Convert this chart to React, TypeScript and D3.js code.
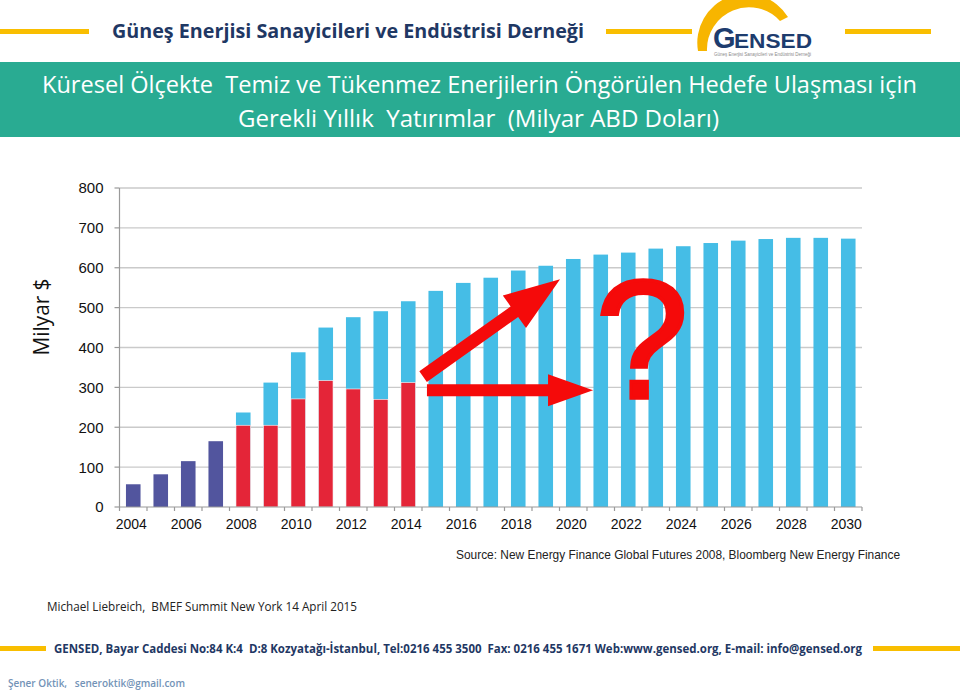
import React from "react";
import * as d3 from "d3";

// ---- data ----
const years: number[] = [2004, 2005, 2006, 2007, 2008, 2009, 2010, 2011, 2012, 2013, 2014, 2015, 2016, 2017, 2018, 2019, 2020, 2021, 2022, 2023, 2024, 2025, 2026, 2027, 2028, 2029, 2030];
const historicYears: number[] = [2004, 2005, 2006, 2007];
const historicValues: number[] = [57, 82, 115, 165];
const actualYears: number[] = [2008, 2009, 2010, 2011, 2012, 2013, 2014];
const actualValues: number[] = [205, 205, 271, 317, 296, 270, 312];
const requiredYears: number[] = [2008, 2009, 2010, 2011, 2012, 2013, 2014, 2015, 2016, 2017, 2018, 2019, 2020, 2021, 2022, 2023, 2024, 2025, 2026, 2027, 2028, 2029, 2030];
const requiredValues: number[] = [237, 312, 388, 450, 476, 491, 516, 542, 562, 575, 593, 605, 622, 633, 638, 648, 654, 662, 668, 672, 675, 675, 673];
const yTicks: number[] = [0, 100, 200, 300, 400, 500, 600, 700, 800];
const xTickLabels: number[] = [2004, 2006, 2008, 2010, 2012, 2014, 2016, 2018, 2020, 2022, 2024, 2026, 2028, 2030];

const headerTitle = "Güneş Enerjisi Sanayicileri ve Endüstrisi Derneği";
const titleLine1 = "Küresel Ölçekte  Temiz ve Tükenmez Enerjilerin Öngörülen Hedefe Ulaşması için";
const titleLine2 = "Gerekli Yıllık  Yatırımlar  (Milyar ABD Doları)";
const yAxisTitle = "Milyar $";
const sourceText = "Source: New Energy Finance Global Futures 2008, Bloomberg New Energy Finance";
const citeText = "Michael Liebreich,  BMEF Summit New York 14 April 2015";
const footerText = "GENSED, Bayar Caddesi No:84 K:4  D:8 Kozyatağı-İstanbul, Tel:0216 455 3500  Fax: 0216 455 1671 Web:www.gensed.org, E-mail: info@gensed.org";
const authorText = "Şener Oktik,   seneroktik@gmail.com";

// annotation positions in data space (bar index, value)
const diagArrow = { from: [11.04, 327], to: [16.02, 571] };
const horizArrow = { from: [11.18, 293], to: [17.22, 293] };
const questionPos = [19.0, 274];

const W = 960, H = 692;
const NAVY = "#52559E";
const RED = "#E42538";
const BLUE = "#45BDE6";
const ARROW = "#F50A0A";
const YELLOW = "#F9BE00";
const TEAL = "#29AB92";
const DARKNAVY = "#1F3864";

function arrowPoly(x0: number, y0: number, x1: number, y1: number, shaft: number, headW: number, headL: number) {
  const dx = x1 - x0, dy = y1 - y0;
  const len = Math.hypot(dx, dy);
  const ux = dx / len, uy = dy / len;
  const px = -uy, py = ux;
  const bx = x1 - ux * headL, by = y1 - uy * headL;
  const pts: [number, number][] = [
    [x0 + px * shaft / 2, y0 + py * shaft / 2],
    [bx + px * shaft / 2, by + py * shaft / 2],
    [bx + px * headW / 2, by + py * headW / 2],
    [x1, y1],
    [bx - px * headW / 2, by - py * headW / 2],
    [bx - px * shaft / 2, by - py * shaft / 2],
    [x0 - px * shaft / 2, y0 - py * shaft / 2],
  ];
  return "M" + pts.map((p) => p.join(",")).join("L") + "Z";
}

export default function App() {
  const left = 119.5, right = 862, top = 188, bottom = 507;
  const x = d3.scaleBand<number>().domain(years).range([left, right]).paddingInner(0.47).paddingOuter(0.235);
  const xi = d3.scaleLinear().domain([0, years.length]).range([left, right]);
  const y = d3.scaleLinear().domain([0, 800]).range([bottom, top]);
  const bw = x.bandwidth();
  const step = x.step();

  const boundaries = years.map((_, i) => left + i * step).concat([right]);

  return (
    <svg width={W} height={H} style={{ display: "block", position: "absolute", left: 0, top: 0, background: "#fff" }}>
      <rect x={0} y={0} width={W} height={H} fill="#fff" />
      {/* header */}
      <rect x={0} y={29} width={89} height={5} fill={YELLOW} />
      <rect x={606} y={29} width={86} height={5} fill={YELLOW} />
      <rect x={845} y={29} width={86} height={5} fill={YELLOW} />
      <text x={112} y={37.5} fontFamily="Open Sans" fontWeight={700} fontSize={20} fill={DARKNAVY} textLength={472} lengthAdjust="spacingAndGlyphs">{headerTitle}</text>
      {/* logo */}
      <path d="M698,51 A49,49 0 0 1 788,17 L780,21 A42,42 0 0 0 707,51 Z" fill="#F7B500" />
      <text x={713} y={47.5} fontFamily="Liberation Sans" fontWeight={700} fontSize={29} fill="#1D3C6E">G</text>
      <text x={734} y={47.5} fontFamily="Liberation Sans" fontWeight={700} fontSize={21} fill="#1D3C6E" textLength={78} lengthAdjust="spacingAndGlyphs">ENSED</text>
      <text x={714} y={56} fontFamily="Liberation Sans" fontSize={5} fill="#8a8a8a" textLength={97} lengthAdjust="spacingAndGlyphs">{headerTitle}</text>
      {/* title band */}
      <rect x={0} y={62} width={W} height={75} fill={TEAL} />
      <text x={42} y={93} fontFamily="Open Sans" fontSize={24} fill="#fff" textLength={875} lengthAdjust="spacingAndGlyphs" style={{ whiteSpace: "pre" }}>{titleLine1}</text>
      <text x={238} y={127} fontFamily="Open Sans" fontSize={24} fill="#fff" textLength={481} lengthAdjust="spacingAndGlyphs" style={{ whiteSpace: "pre" }}>{titleLine2}</text>

      {/* gridlines */}
      {yTicks.filter((t) => t > 0).map((t) => (
        <line key={"g" + t} x1={left} x2={right} y1={y(t)} y2={y(t)} stroke="#CACACA" strokeWidth={1.3} />
      ))}
      {/* y axis */}
      <line x1={left} x2={left} y1={top} y2={bottom} stroke="#9A9A9A" strokeWidth={1.2} />
      {yTicks.map((t) => (
        <g key={"y" + t}>
          <line x1={left - 5} x2={left} y1={y(t)} y2={y(t)} stroke="#9A9A9A" strokeWidth={1.2} />
          <text x={103.5} y={y(t)} dy="0.36em" textAnchor="end" fontFamily="Liberation Sans" fontSize={15} fill="#111">{t}</text>
        </g>
      ))}
      {/* bars */}
      {requiredYears.map((yr, i) => (
        <rect key={"b" + yr} x={x(yr)} y={y(requiredValues[i])} width={bw} height={y(0) - y(requiredValues[i])} fill={BLUE} />
      ))}
      {actualYears.map((yr, i) => (
        <rect key={"r" + yr} x={x(yr)} y={y(actualValues[i])} width={bw} height={y(0) - y(actualValues[i])} fill={RED} stroke="#fff" strokeWidth={0.6} />
      ))}
      {historicYears.map((yr, i) => (
        <rect key={"n" + yr} x={x(yr)} y={y(historicValues[i])} width={bw} height={y(0) - y(historicValues[i])} fill={NAVY} />
      ))}
      {/* x axis */}
      <line x1={left} x2={right} y1={bottom} y2={bottom} stroke="#9A9A9A" strokeWidth={1.2} />
      {boundaries.map((bx, i) => (
        <line key={"t" + i} x1={bx} x2={bx} y1={bottom} y2={bottom + 4} stroke="#9A9A9A" strokeWidth={1.2} />
      ))}
      {xTickLabels.map((yr) => (
        <text key={"xl" + yr} x={(x(yr) as number) + bw / 2 - 2} y={528.5} textAnchor="middle" fontFamily="Liberation Sans" fontSize={14} fill="#111">{yr}</text>
      ))}
      {/* y title */}
      <text transform={`translate(48.5,317) rotate(-90)`} textAnchor="middle" fontFamily="Open Sans" fontSize={21} fill="#111" textLength={77} lengthAdjust="spacingAndGlyphs">{yAxisTitle}</text>

      {/* annotations */}
      <path d={arrowPoly(xi(diagArrow.from[0]), y(diagArrow.from[1]), xi(diagArrow.to[0]), y(diagArrow.to[1]), 13, 40, 56)} fill={ARROW} />
      <path d={arrowPoly(xi(horizArrow.from[0]), y(horizArrow.from[1]), xi(horizArrow.to[0]), y(horizArrow.to[1]), 12, 32, 45)} fill={ARROW} />
      <text x={xi(questionPos[0])} y={y(questionPos[1])} textAnchor="middle" fontFamily="Liberation Sans" fontSize={168} fill={ARROW} stroke={ARROW} strokeWidth={3.5} strokeLinejoin="miter">?</text>

      {/* source */}
      <text x={456} y={559} fontFamily="Liberation Sans" fontSize={13} fill="#222" textLength={444} lengthAdjust="spacingAndGlyphs">{sourceText}</text>
      <text x={47} y={611} fontFamily="Open Sans" fontSize={12.5} fill="#222" textLength={310} lengthAdjust="spacingAndGlyphs" style={{ whiteSpace: "pre" }}>{citeText}</text>

      {/* footer */}
      <rect x={0} y={646} width={46} height={5} fill={YELLOW} />
      <rect x={873} y={646} width={87} height={5} fill={YELLOW} />
      <text x={54} y={653} fontFamily="Open Sans" fontWeight={700} fontSize={12.5} fill={DARKNAVY} textLength={808} lengthAdjust="spacingAndGlyphs" style={{ whiteSpace: "pre" }}>{footerText}</text>
      <text x={8} y={687} fontFamily="Open Sans" fontWeight={600} fontSize={11} fill="#7393B7" textLength={177} lengthAdjust="spacingAndGlyphs" style={{ whiteSpace: "pre" }}>{authorText}</text>
    </svg>
  );
}
